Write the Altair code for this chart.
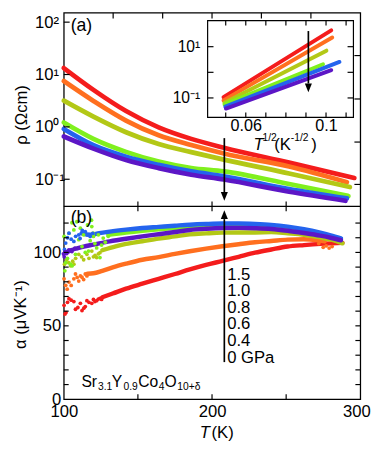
import altair as alt
import pandas as pd

FONT = "Liberation Sans"

SERIES = ["0 GPa", "0.4 GPa", "0.6 GPa", "0.8 GPa", "1.0 GPa", "1.5 GPa"]
COLORS = ["#F41C1C", "#FF6F1F", "#B3C816", "#80F01E", "#2464EE", "#5C16C6"]

# ---------- (a) resistivity rho (Ohm cm) vs T (K) ----------
RHO_T = [
    [100, 120, 142, 164, 186, 208, 252, 296],
    [100, 120, 142, 164, 186, 208, 252, 291],
    [100, 120, 142, 164, 186, 208, 252, 293],
    [100, 120, 142, 164, 186, 208, 252, 292],
    [100, 120, 142, 164, 186, 208, 252, 291],
    [100, 120, 142, 164, 186, 208, 252, 290],
]
RHO = [
    [13.3, 5.1, 2.01, 0.98, 0.59, 0.40, 0.208, 0.106],
    [7.5, 3.13, 1.32, 0.69, 0.45, 0.31, 0.175, 0.088],
    [3.17, 1.57, 0.79, 0.47, 0.33, 0.237, 0.129, 0.071],
    [1.21, 0.59, 0.333, 0.217, 0.163, 0.141, 0.081, 0.048],
    [0.91, 0.446, 0.269, 0.188, 0.141, 0.114, 0.065, 0.043],
    [0.656, 0.385, 0.233, 0.163, 0.122, 0.0987, 0.0577, 0.0388],
]

# ---------- inset: rho vs T^-1/2 ----------
INSET_X = [
    [0.0489, 0.1026],
    [0.0489, 0.1031],
    [0.0494, 0.1002],
    [0.0494, 0.0985],
    [0.0498, 0.1067],
    [0.0501, 0.1026],
]
INSET_RHO = [
    [0.107, 43.4],
    [0.080, 22.9],
    [0.065, 7.0],
    [0.056, 2.06],
    [0.0457, 2.54],
    [0.0384, 1.21],
]

# ---------- (b) thermopower alpha (uV/K) vs T (K) ----------
ALPHA_LINE_T = [
    [126, 133, 142, 153, 164, 175, 185, 196, 207, 218, 229, 240, 251, 262, 273, 281, 288],
    [116, 120, 126, 133, 142, 153, 164, 175, 185, 196, 207, 218, 229, 240, 251, 262, 270, 276],
    [126, 135, 142, 153, 164, 175, 185, 196, 207, 218, 229, 240, 251, 262, 273, 281, 288],
    [130, 142, 153, 164, 175, 185, 196, 207, 218, 229, 240, 251, 262, 273, 280, 287],
    [112, 118, 124, 131, 142, 153, 164, 175, 185, 196, 207, 218, 229, 240, 251, 262, 273, 280, 287],
    [100, 104.6, 109, 113.4, 120, 131, 142, 153, 164, 175, 185, 196, 207, 218, 229, 240, 251, 262, 273, 280, 287],
]
ALPHA_LINE = [
    [69.5, 72, 75.3, 78.7, 82, 85.3, 88.4, 91.5, 94.2, 97, 99.8, 102, 104, 105, 105.8, 106.2, 106.5],
    [85.5, 85.8, 87.5, 89.8, 92.3, 95, 96.8, 99, 100.8, 102.6, 104.2, 105.6, 106.9, 107.8, 108.7, 109, 108.5, 107.5],
    [101.5, 104.2, 105.8, 107.6, 109.4, 110.9, 112.3, 113, 113.5, 113.6, 113.6, 113.8, 113, 112, 110.2, 108.6, 106.2],
    [112, 113.6, 114.8, 115.8, 116.6, 117.3, 117.8, 118, 118, 117.8, 117.3, 116.2, 114.6, 112.4, 110.8, 108.5],
    [113, 112, 113.2, 114.2, 115.5, 116.6, 117.4, 118.2, 118.9, 119.4, 119.7, 119.7, 119.4, 118.8, 117.6, 115.8, 113.4, 111.6, 109.6],
    [99, 101.4, 102.8, 104, 105.3, 107.5, 109.3, 110.9, 112.4, 113.9, 115.3, 116.1, 116.6, 116.7, 116.5, 116, 114.8, 113.2, 111.4, 110, 108.3],
]
ALPHA_PTS_T = [
    [100.2, 100.8, 101.5, 102.5, 103.5, 105, 106.8, 107.9, 109.5, 111.2, 112.3, 113.5, 114.5, 115.6, 117, 118.9, 120, 121, 122.2, 123.3, 124.4, 125.5],
    [100.2, 101.3, 102.3, 103.5, 105, 106.8, 107.9, 109, 110.1, 111.2, 112.3, 113.4, 114.5, 115.6, 272, 275, 277, 279, 281],
    [100.5, 102, 103.3, 104.6, 106, 106.8, 108, 110.1, 112, 113.4, 115.6, 117, 118.9, 120, 121.1, 122.2, 123.3, 124.4],
    [100.2, 100.7, 101.3, 102.5, 103.5, 104.5, 105.5, 105.7, 106.8, 107.9, 108.8, 110.1, 111.2, 112.3, 113.4, 114.5,
     116, 116.7, 117.8, 118.7, 118.9, 119.8, 120, 121, 122.2, 123.3, 124.4, 125.5, 126.6, 128, 130],
    [100.5, 101.3, 102.5, 103.5, 105, 106.8, 108, 110.1, 111, 112.5, 114.5, 116, 117.8, 119.5],
    [100.3, 101, 102, 103.4, 105.5, 107.5],
]
ALPHA_PTS = [
    [64, 58, 59, 66, 68.5, 67.5, 66.5, 61.3, 62.5, 65.3, 60.4, 62, 63.1, 67.1, 66, 65.3, 68, 66.5, 67.1, 68.2, 68.7, 68],
    [82, 77.6, 75, 79.8, 77.5, 82, 85.3, 83, 80.5, 84, 83.1, 81.5, 85.3, 84, 106, 103.5, 104.5, 103, 104],
    [92, 95, 93, 90.9, 94, 92, 96, 98.7, 97, 95, 98.7, 96, 100.9, 97, 98, 96.5, 99, 99.8],
    [110.9, 87.5, 93.1, 96, 113, 92, 120.2, 90.9, 115.3, 98.7, 120.9, 108.7, 116.5, 104, 112, 100,
     118.7, 100.9, 108, 122, 117.6, 113.1, 110.9, 106, 103.1, 112, 96.5, 105, 109.8, 107, 111],
    [102, 106.4, 110, 113.1, 109, 107.5, 111, 112, 109.5, 115, 114.2, 112, 110.9, 113],
    [97, 100.5, 99.2, 101.8, 100.6, 103],
]

PRESSURE_LABELS = ["1.5", "1.0", "0.8", "0.6", "0.4", "0 GPa"]

# tick positions
A_Y_TICKS_LEFT = [0.1, 1, 10, 100]
A_Y_TICKS_RIGHT = [23.0, 3.41, 0.513, 0.0796]
A_X_TICKS_TOP = [133.3, 166.7, 200, 233.3, 266.7]
X_TICKS = [150, 200, 250]
B_Y_TICKS = [10, 20, 30, 40, 50, 60, 70, 80, 90, 100, 110, 120]
I_X_TICKS = [0.05, 0.06, 0.07, 0.08, 0.09, 0.10, 0.11]
I_Y_TICKS = [0.1, 1, 10]

# arrows
ARROW_T = 208.3
ARROW_A_RHO = [0.61, 0.048]
ARROW_A_TIP = 0.0388
ARROW_B_ALPHA = [25.3, 122.7]
ARROW_B_TIP = 128.7
ARROW_I_X = 0.0912
ARROW_I_RHO = [40.8, 0.366]
ARROW_I_TIP = 0.166

# ---------- layout ----------
W, H, HA = 303, 395, 198
IX0, IX1, IY0, IY1 = 147, 296, 8, 107

XS = alt.Scale(domain=[100, 300], nice=False, zero=False)
YA = alt.Scale(type="log", domain=[0.0302, 151.4], range=[HA, 0], nice=False)
YB = alt.Scale(domain=[0, 131.3], range=[H, HA], nice=False, zero=False)
XI = alt.Scale(domain=[0.04098, 0.11366], range=[IX0, IX1], nice=False, zero=False)
YI = alt.Scale(type="log", domain=[0.01738, 104.7], range=[IY1, IY0], nice=False)

SUP = "datum.value >= 50 ? '10²' : datum.value >= 5 ? '10¹' : datum.value >= 0.5 ? '10⁰' : '10⁻¹'"

AX_YA = alt.Axis(orient="left", values=A_Y_TICKS_LEFT, labelExpr=SUP, tickSize=0, domain=False,
                 grid=False, labelAlign="left", labelPadding=30, labelFontSize=17, labelFlush=False,
                 labelOverlap=False, title="ρ (Ωcm)", titleFontSize=17, titleX=-43, titleY=104,
                 titleBaseline="middle", titleAngle=270, titleAlign="center")
AX_YB = alt.Axis(orient="left", values=[0, 50, 100], tickSize=0, domain=False, grid=False,
                 labelPadding=3, labelFontSize=17, labelFlush=False, labelOverlap=False,
                 title="α (μVK⁻¹)", titleFontSize=17, titleX=-44, titleY=308,
                 titleBaseline="middle", titleAngle=270, titleAlign="center")
AX_XB = alt.Axis(orient="bottom", values=[100, 200, 300], tickSize=0, domain=False, grid=False,
                 labelPadding=5, labelFontSize=17, labelFlush=False, labelOverlap=False, title="",
                 labelOffset={"condition": {"test": "datum.value >= 300", "value": -4}, "value": 0})
AX_XI = alt.Axis(orient="bottom", offset=IY1 - H, values=[0.06, 0.1], format="~g", tickSize=0,
                 domain=False, grid=False, labelPadding=0, labelFontSize=16.5, labelFlush=False,
                 labelOverlap=False, title="")
AX_YI = alt.Axis(orient="left", offset=-IX0, values=[0.1, 10],
                 labelExpr="datum.value >= 1 ? '10¹' : '10⁻¹'", tickSize=0, domain=False, grid=False,
                 labelPadding=8, labelFontSize=16, labelFlush=False, labelOverlap=False, title="")

# every encoding on a given scale carries the same axis definition (shared axis merges cleanly)
AXES = {id(XS): AX_XB, id(YA): AX_YA, id(YB): AX_YB, id(XI): AX_XI, id(YI): AX_YI}

DOWN = "M -0.8 -1 L 0.8 -1 L 0 1 Z"
UP = "M -0.8 1 L 0.8 1 L 0 -1 Z"


def xy(xs, ys):
    return pd.DataFrame({"x": xs, "y": ys})


def enc(xscale, yscale):
    return dict(x=alt.X("x:Q", scale=xscale, axis=AXES[id(xscale)]),
                y=alt.Y("y:Q", scale=yscale, axis=AXES[id(yscale)]))


def line(xs, ys, xscale, yscale, color, width, interp="monotone"):
    return alt.Chart(xy(xs, ys)).mark_line(color=color, strokeWidth=width, interpolate=interp,
                                           strokeCap="round").encode(**enc(xscale, yscale))


def dots(xs, ys, xscale, yscale, color):
    return alt.Chart(xy(xs, ys)).mark_circle(color=color, size=15, opacity=1).encode(**enc(xscale, yscale))


def hticks(vals, yscale, x0, x1):
    return alt.Chart(pd.DataFrame({"v": vals})).mark_rule(color="black", strokeWidth=1.2).encode(
        y=alt.Y("v:Q", scale=yscale, axis=AXES[id(yscale)]), x=alt.value(x0), x2=alt.value(x1))


def vticks(vals, xscale, y0, y1):
    return alt.Chart(pd.DataFrame({"v": vals})).mark_rule(color="black", strokeWidth=1.2).encode(
        x=alt.X("v:Q", scale=xscale, axis=AXES[id(xscale)]), y=alt.value(y0), y2=alt.value(y1))


def label(t, x, y, size=17, style="normal", align="left", baseline="alphabetic", **kw):
    return alt.Chart(pd.DataFrame({"t": [t]})).mark_text(
        align=align, baseline=baseline, fontSize=size, fontStyle=style, font=FONT, color="black", **kw
    ).encode(x=alt.value(x), y=alt.value(y), text="t:N")


def arrow(xv, ys, tip, xscale, yscale, shape, yoff):
    shaft = alt.Chart(xy([xv, xv], ys)).mark_line(color="black", strokeWidth=1.7).encode(
        **enc(xscale, yscale))
    head = alt.Chart(xy([xv], [tip])).mark_point(shape=shape, size=81, filled=True, color="black",
                                                 opacity=1, strokeWidth=0, yOffset=yoff).encode(
        **enc(xscale, yscale))
    return [shaft, head]


# ---------- panel (a) ----------
A = []
for i, c in enumerate(COLORS):
    A.append(line(RHO_T[i], RHO[i], XS, YA, c, 4.8))
A += [
    hticks(A_Y_TICKS_LEFT, YA, 0, 6),
    hticks(A_Y_TICKS_RIGHT, YA, W - 6, W),
    vticks(A_X_TICKS_TOP, XS, 0, 6),
    vticks(X_TICKS, XS, HA - 5, HA),
    alt.Chart(pd.DataFrame({"d": [0]})).mark_rule(color="black", strokeWidth=1.3).encode(
        x=alt.value(0), x2=alt.value(W), y=alt.value(HA)),
    label("(a)", 7, 19, size=18),
]
A += arrow(ARROW_T, ARROW_A_RHO, ARROW_A_TIP, XS, YA, DOWN, -4.5)

# ---------- panel (b) ----------
B = []
for i, c in enumerate(COLORS):
    B.append(line(ALPHA_LINE_T[i], ALPHA_LINE[i], XS, YB, c, 4.5))
for i, c in enumerate(COLORS):
    B.append(dots(ALPHA_PTS_T[i], ALPHA_PTS[i], XS, YB, c))
B += [
    hticks(B_Y_TICKS, YB, 0, 5),
    hticks(B_Y_TICKS, YB, W - 5, W),
    vticks(X_TICKS, XS, HA, HA + 5),
    vticks(X_TICKS, XS, H - 5, H),
    label("(b)", 7, 215, size=18),
    label("\n".join(PRESSURE_LABELS), 167, 260, size=17, baseline="top", lineBreak="\n", lineHeight=16.9),
    label("Sr", 18, 382, size=16), label("3.1", 35, 386, size=10.5),
    label("Y", 49, 382, size=16), label("0.9", 61, 386, size=10.5),
    label("Co", 76, 382, size=16), label("4", 97, 386, size=10.5),
    label("O", 103, 382, size=16), label("10+δ", 116, 386, size=10.5),
    label("T", 139, 435, size=17, style="italic"),
    label("(K)", 151, 435, size=17),
]
B += arrow(ARROW_T, ARROW_B_ALPHA, ARROW_B_TIP, XS, YB, UP, 4.5)

# ---------- inset ----------
I = [alt.Chart(pd.DataFrame({"d": [0]})).mark_rect(fill="white", stroke="black", strokeWidth=1.2).encode(
    x=alt.value(IX0), x2=alt.value(IX1), y=alt.value(IY0), y2=alt.value(IY1))]
for i, c in enumerate(COLORS):
    I.append(line(INSET_X[i], INSET_RHO[i], XI, YI, c, 4.0, interp="linear"))
I += [
    vticks(I_X_TICKS, XI, IY1 - 5, IY1),
    vticks(I_X_TICKS, XI, IY0, IY0 + 5),
    hticks(I_Y_TICKS, YI, IX0, IX0 + 6),
    hticks(I_Y_TICKS, YI, IX1 - 6, IX1),
    label("T", 194, 140, size=17, style="italic"),
    label("1/2", 203, 131, size=10.5),
    label("(K", 215, 140, size=17),
    label("-1/2", 232, 131, size=10.5),
    label(")", 253, 140, size=17),
]
I += arrow(ARROW_I_X, ARROW_I_RHO, ARROW_I_TIP, XI, YI, DOWN, -4.5)

main = alt.layer(alt.layer(*A), alt.layer(*B)).resolve_scale(y="independent")
inset = alt.layer(*I)

chart = alt.layer(main, inset).resolve_scale(x="independent", y="independent").properties(
    width=W, height=H, autosize=alt.AutoSizeParams(type="none"),
    padding={"left": 57, "top": 0, "right": 13, "bottom": 45}
).configure_view(stroke="black", strokeWidth=1.3).configure_axis(
    labelFont=FONT, titleFont=FONT, labelColor="black", titleColor="black", titleFontWeight="normal"
).configure_text(font=FONT)

chart.save("out.html", embed_options={"renderer": "svg", "actions": False})
